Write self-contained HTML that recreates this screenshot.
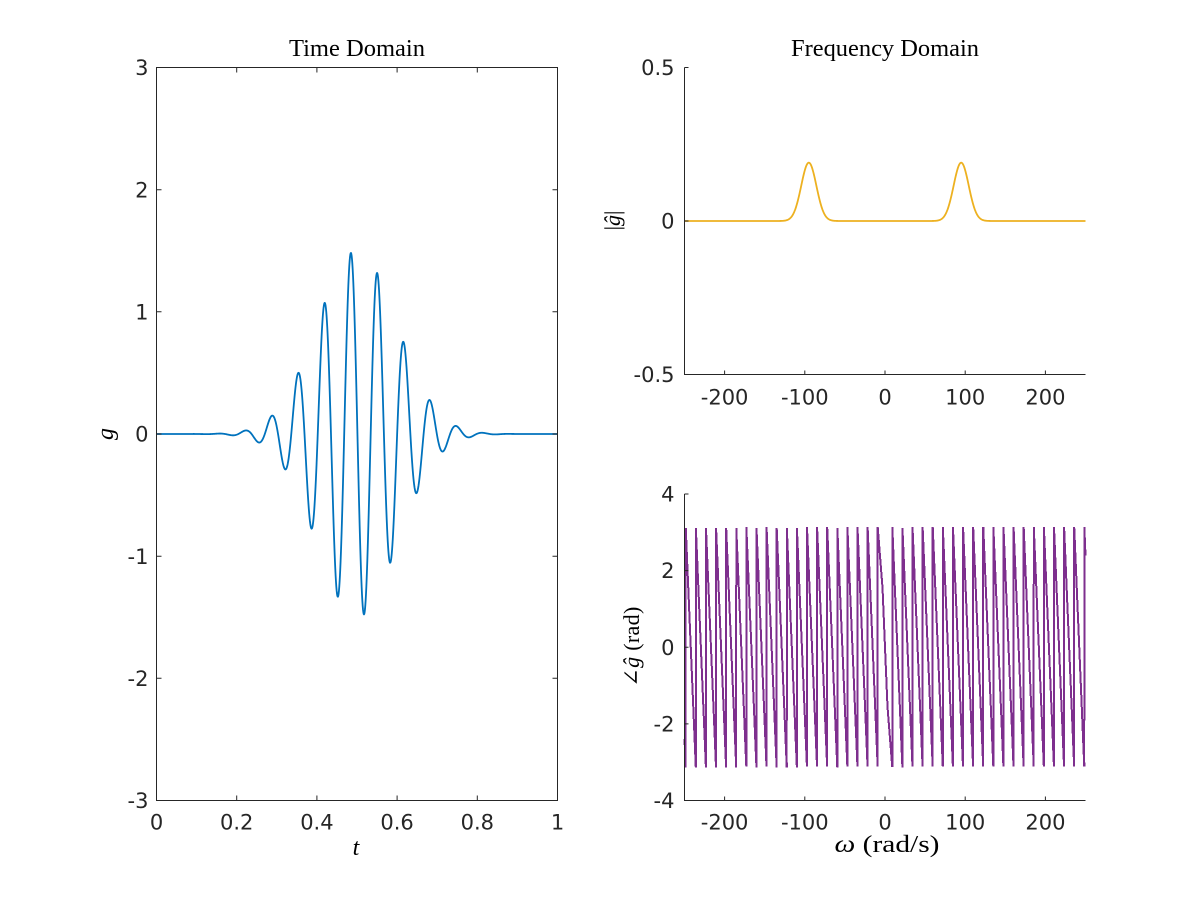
<!DOCTYPE html>
<html>
<head>
<meta charset="utf-8">
<style>
  html, body { margin: 0; padding: 0; background: #ffffff; }
  svg { display: block; }
  .tick { font-family: "DejaVu Sans", "Liberation Sans", sans-serif; font-size: 21px; fill: #262626; }
  .ser { font-family: "Liberation Serif", "DejaVu Serif", serif; fill: #000000; }
</style>
</head>
<body>
<svg id="fig" width="1200" height="900" viewBox="0 0 1200 900" xmlns="http://www.w3.org/2000/svg">
  <rect x="0" y="0" width="1200" height="900" fill="#ffffff"/>

  <!-- ============ LEFT: Time Domain ============ -->
  <path id="gline" fill="none" stroke="#0072BD" stroke-width="1.8" stroke-linejoin="round" d=""/>
  <rect x="156.5" y="67.5" width="401" height="733" fill="none" stroke="#262626" stroke-width="1"/>
  <g stroke="#262626" stroke-width="1">
    <path d="M236.7 800.5v-5 M316.9 800.5v-5 M397.1 800.5v-5 M477.3 800.5v-5
             M236.7 67.5v5 M316.9 67.5v5 M397.1 67.5v5 M477.3 67.5v5"/>
    <path d="M156.5 189.7h5 M156.5 311.8h5 M156.5 434h5 M156.5 556.2h5 M156.5 678.3h5
             M557.5 189.7h-5 M557.5 311.8h-5 M557.5 434h-5 M557.5 556.2h-5 M557.5 678.3h-5"/>
  </g>
  <g class="tick" text-anchor="end">
    <text x="148.5" y="75.1">3</text>
    <text x="148.5" y="197.3">2</text>
    <text x="148.5" y="319.4">1</text>
    <text x="148.5" y="441.6">0</text>
    <text x="148.5" y="563.8">-1</text>
    <text x="148.5" y="685.9">-2</text>
    <text x="148.5" y="808.1">-3</text>
  </g>
  <g class="tick" text-anchor="middle">
    <text x="156.5" y="829.5">0</text>
    <text x="236.7" y="829.5">0.2</text>
    <text x="316.9" y="829.5">0.4</text>
    <text x="397.1" y="829.5">0.6</text>
    <text x="477.3" y="829.5">0.8</text>
    <text x="557.5" y="829.5">1</text>
  </g>
  <text class="ser" x="357" y="56" font-size="24" text-anchor="middle" textLength="136" lengthAdjust="spacingAndGlyphs">Time Domain</text>
  <text class="ser" x="356" y="855" font-size="24" font-style="italic" text-anchor="middle">t</text>
  <text class="ser" font-size="24" font-style="italic" text-anchor="middle" transform="translate(113,434) rotate(-90)">g</text>

  <!-- ============ RIGHT TOP: magnitude ============ -->
  <path id="mline" fill="none" stroke="#EDB120" stroke-width="1.8" stroke-linejoin="round" d=""/>
  <g stroke="#262626" stroke-width="1" fill="none">
    <path d="M684.5 67.5V374.5H1085.5"/>
    <path d="M724.6 374.5v-4 M804.8 374.5v-4 M885 374.5v-4 M965.2 374.5v-4 M1045.4 374.5v-4
             M684.5 67.5h4 M684.5 221h4"/>
  </g>
  <g class="tick" text-anchor="end">
    <text x="674.5" y="75.1">0.5</text>
    <text x="674.5" y="228.6">0</text>
    <text x="674.5" y="382.1">-0.5</text>
  </g>
  <g class="tick" text-anchor="middle">
    <text x="724.6" y="404.5">-200</text>
    <text x="804.8" y="404.5">-100</text>
    <text x="885" y="404.5">0</text>
    <text x="965.2" y="404.5">100</text>
    <text x="1045.4" y="404.5">200</text>
  </g>
  <text class="ser" x="885" y="56" font-size="24" text-anchor="middle" textLength="188" lengthAdjust="spacingAndGlyphs">Frequency Domain</text>
  <text class="ser" font-size="22" text-anchor="middle" transform="translate(620,220.5) rotate(-90)">|<tspan font-style="italic">ĝ</tspan>|</text>

  <!-- ============ RIGHT BOTTOM: phase ============ -->
  <path id="pline" fill="none" stroke="#7E2F8E" stroke-width="2" stroke-linejoin="miter" shape-rendering="crispEdges" d=""/>
  <g stroke="#262626" stroke-width="1" fill="none">
    <path d="M684.5 494V800.5H1085.5"/>
    <path d="M724.6 800.5v-4 M804.8 800.5v-4 M885 800.5v-4 M965.2 800.5v-4 M1045.4 800.5v-4
             M684.5 494h4 M684.5 570.6h4 M684.5 647.25h4 M684.5 723.9h4"/>
  </g>
  <g class="tick" text-anchor="end">
    <text x="674.5" y="501.6">4</text>
    <text x="674.5" y="578.2">2</text>
    <text x="674.5" y="654.9">0</text>
    <text x="674.5" y="731.5">-2</text>
    <text x="674.5" y="808.1">-4</text>
  </g>
  <g class="tick" text-anchor="middle">
    <text x="724.6" y="829.5">-200</text>
    <text x="804.8" y="829.5">-100</text>
    <text x="885" y="829.5">0</text>
    <text x="965.2" y="829.5">100</text>
    <text x="1045.4" y="829.5">200</text>
  </g>
  <text class="ser" x="887" y="852" font-size="24" text-anchor="middle" textLength="105" lengthAdjust="spacingAndGlyphs"><tspan font-style="italic">ω</tspan> (rad/s)</text>
  <text class="ser" font-size="22" text-anchor="middle" textLength="80" lengthAdjust="spacing" transform="translate(639,646.7) rotate(-90)">∠<tspan font-style="italic">ĝ</tspan> (rad)</text>
</svg>

<script>
(function(){
  // time domain
  var d = [], N = 1200;
  for (var i = 0; i <= N; i++) {
    var t = i / N;
    var g = 1.5 * Math.exp(-Math.pow((t - 0.5) / 0.14, 2)) * Math.cos(2 * Math.PI * 15.15 * (t - 0.4846));
    var X = 156.5 + t * 401, Y = 434 - g * 122.17;
    d.push((i ? "L" : "M") + X.toFixed(2) + " " + Y.toFixed(2));
  }
  document.getElementById("gline").setAttribute("d", d.join(""));

  function XW(w){ return 684.5 + (w + 250) * 0.802; }

  // magnitude
  d = [];
  for (var k = 0; k <= 1000; k++) {
    var w = -250 + k * 0.5;
    var m = 0.19 * (Math.exp(-Math.pow((w - 95) * 0.075, 2)) + Math.exp(-Math.pow((w + 95) * 0.075, 2)));
    d.push((k ? "L" : "M") + XW(w).toFixed(2) + " " + (221 - m * 307).toFixed(2));
  }
  document.getElementById("mline").setAttribute("d", d.join(""));

  // phase
  var P = Math.PI, per = 12.6, s = 2 * P / per, wj = 9.1;
  function mod(a, b){ return ((a % b) + b) % b; }
  function ph(w){
    if (w >= wj) return P - s * mod(w - wj, per);
    if (w <= -wj) return -P + s * mod(-w - wj, per);
    var a = Math.abs(w), v;
    if (a < 3.1) v = -0.5 * a;
    else v = -1.55 - (a - 3.1) / 6 * (P - 1.55);
    return w >= 0 ? v : -v;
  }
  d = [];
  var M = 10000;
  for (var j = 0; j <= M; j++) {
    var w2 = -250 + j * (500 / M);
    var p = ph(w2);
    d.push((j ? "L" : "M") + XW(w2).toFixed(3) + " " + (647.25 - p * 38.31).toFixed(2));
  }
  document.getElementById("pline").setAttribute("d", d.join(""));
})();
</script>
</body>
</html>
